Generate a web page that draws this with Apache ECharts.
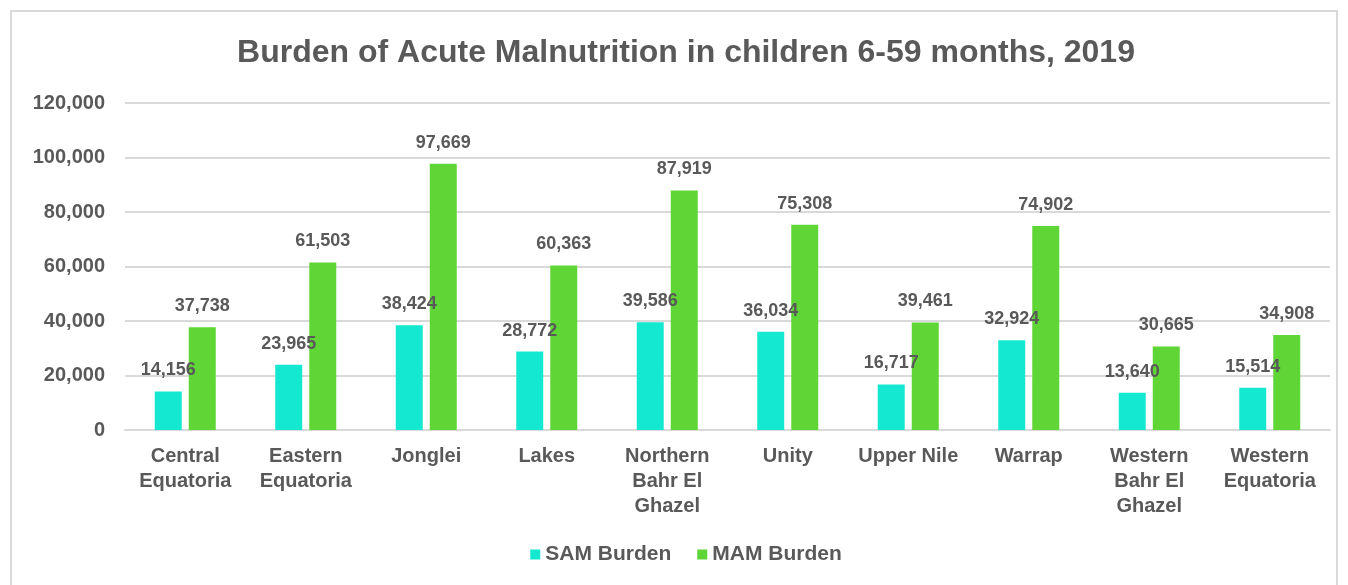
<!DOCTYPE html>
<html>
<head>
<meta charset="UTF-8">
<title>Burden of Acute Malnutrition</title>
<style>
body{margin:0;background:#fff;overflow:hidden;width:1348px;height:585px;position:relative;}
#frame{position:absolute;left:10px;top:10px;width:1328px;height:590px;border:2px solid #d9d9d9;box-sizing:border-box;}
#picContainer{position:absolute;left:0;top:0;width:1372px;height:585px;}
</style>
</head>
<body>
<div id="frame"></div>
<div id="picContainer"></div>
<script src="https://cdn.jsdelivr.net/npm/echarts@6/dist/echarts.min.js"></script>
<script>
var states = ['Central\nEquatoria', 'Eastern\nEquatoria', 'Jonglei', 'Lakes', 'Northern\nBahr El\nGhazel',
    'Unity', 'Upper Nile', 'Warrap', 'Western\nBahr El\nGhazel', 'Western\nEquatoria'];
var samBurden = [14156, 23965, 38424, 28772, 39586, 36034, 16717, 32924, 13640, 15514];
var mamBurden = [37738, 61503, 97669, 60363, 87919, 75308, 39461, 74902, 30665, 34908];

var fontFam = '"Liberation Sans", Arial, sans-serif';
var textCol = '#595959';

// container is a bit wider than the window so title/legend centre matches the original
var myChart = echarts.init(document.getElementById('picContainer'));
var labelStyle = {
    show: true,
    position: 'top',
    distance: 12,
    color: textCol,
    fontFamily: fontFam,
    fontWeight: 'bold',
    fontSize: 18,
    formatter: function (p) { return p.value.toLocaleString('en-US'); }
};
option = {
    animation: false,
    title: {
        text: 'Burden of Acute Malnutrition in children 6-59 months, 2019',
        left: 'center',
        top: 32,
        textStyle: {color: textCol, fontFamily: fontFam, fontWeight: 'bold', fontSize: 32}
    },
    legend: {
        bottom: 15,
        left: 'center',
        itemWidth: 10,
        itemHeight: 10,
        itemGap: 26,
        icon: 'rect',
        textStyle: {color: textCol, fontFamily: fontFam, fontWeight: 'bold', fontSize: 21}
    },
    grid: {left: 125, right: 42, top: 103, bottom: 155},
    xAxis: {
        type: 'category',
        data: states,
        axisLine: {lineStyle: {color: '#d9d9d9', width: 2}},
        axisTick: {show: false},
        axisLabel: {
            color: textCol, fontFamily: fontFam, fontWeight: 'bold', fontSize: 20,
            lineHeight: 25, margin: 14, interval: 0
        }
    },
    yAxis: {
        type: 'value',
        min: 0,
        max: 120000,
        interval: 20000,
        axisLine: {show: false},
        axisTick: {show: false},
        splitLine: {lineStyle: {color: '#d9d9d9', width: 2}},
        axisLabel: {
            color: textCol, fontFamily: fontFam, fontWeight: 'bold', fontSize: 20, margin: 20,
            formatter: function (v) { return v.toLocaleString('en-US'); }
        }
    },
    series: [
        {name: 'SAM Burden', type: 'bar', data: samBurden, barWidth: 27, barGap: '26%',
         itemStyle: {color: '#15E8D0'}, label: labelStyle},
        {name: 'MAM Burden', type: 'bar', data: mamBurden, barWidth: 27,
         itemStyle: {color: '#5FD636'}, label: labelStyle}
    ]
};
myChart.setOption(option);
</script>
</body>
</html>
